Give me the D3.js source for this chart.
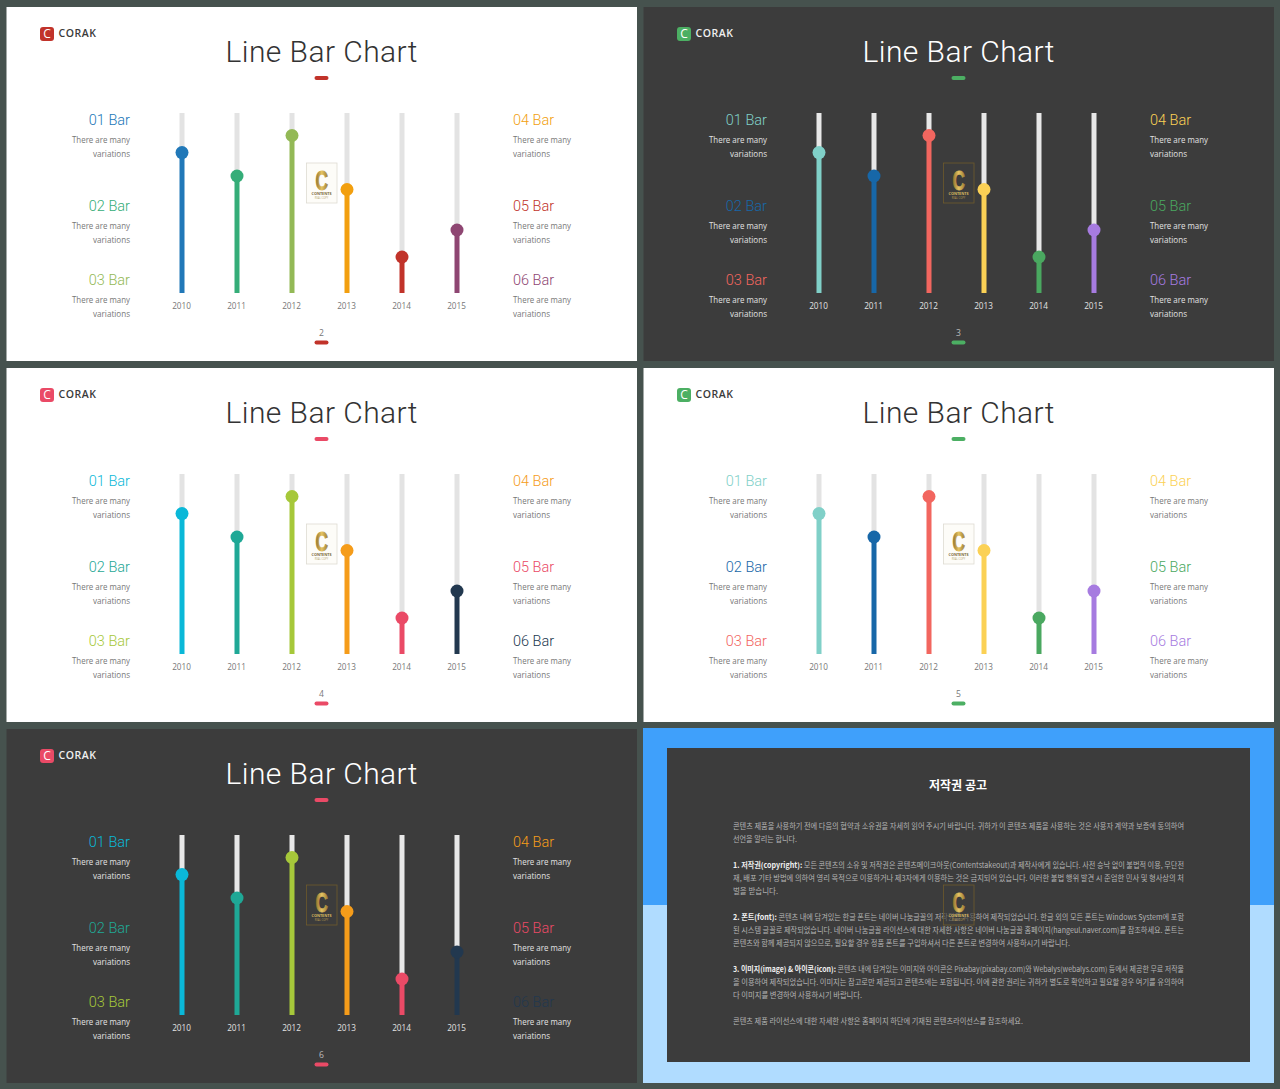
<!DOCTYPE html>
<html>
<head>
<meta charset="utf-8">
<script src="https://cdn.jsdelivr.net/npm/d3@7"></script>
<style>
  html, body { margin: 0; padding: 0; background: #46524e; }
  svg { display: block; }
  text { font-family: "Open Sans", sans-serif; }
  .title { font-family: Roboto, sans-serif; font-weight: 300; }
  .barname { font-family: Roboto, sans-serif; font-weight: 300; }
  .kr { font-family: "Noto Sans CJK KR", sans-serif; }
</style>
</head>
<body>
<svg id="chart" width="1280" height="1089"></svg>
<script>
// values, same on all five chart slides
const years = ["2010", "2011", "2012", "2013", "2014", "2015"];
const values = [78, 65, 87.5, 57.5, 20, 35];
const barNames = ["01 Bar", "02 Bar", "03 Bar", "04 Bar", "05 Bar", "06 Bar"];
const descLines = ["There are many", "variations"];
const pages = ["2", "3", "4", "5", "6"];

const colorsRed = ["#2178b8", "#35ad78", "#93b956", "#f29f0f", "#c1332a", "#8e4672"];
const colorsGreen = ["#80d0c8", "#1767a8", "#f2665f", "#fbd155", "#4aa860", "#a67be0"];
const colorsPink = ["#0ab8d8", "#1fa896", "#a6c83a", "#f59c1a", "#ea4a66", "#22384f"];

const noticeTitle = "저작권 공고";
const noticeHeads = ["", "", "1. 저작권(copyright):", "", "", "2. 폰트(font):", "", "", "3. 이미지(image) & 아이콘(icon):", "", "", ""];
const noticeBodies = [
  "콘텐츠 제품을 사용하기 전에 다음의 협약과 소유권을 자세히 읽어 주시기 바랍니다. 귀하가 이 콘텐츠 제품을 사용하는 것은 사용자 계약과 보증에 동의하여",
  "선언을 알리는 합니다.",
  " 모든 콘텐츠의 소유 및 저작권은 콘텐츠메이크아웃(Contentstakeout)과 제작사에게 있습니다. 사전 승낙 없이 불법적 이용, 무단전",
  "재, 배포 기타 방법에 의하여 영리 목적으로 이용하거나 제3자에게 이용하는 것은 금지되어 있습니다. 이러한 불법 행위 발견 시 준엄한 민사 및 형사상의 처",
  "벌을 받습니다.",
  " 콘텐츠 내에 담겨있는 한글 폰트는 네이버 나눔글꼴의 저작권을 사용하여 제작되었습니다. 한글 외의 모든 폰트는 Windows System에 포함",
  "된 시스템 글꼴로 제작되었습니다. 네이버 나눔글꼴 라이선스에 대한 자세한 사항은 네이버 나눔글꼴 홈페이지(hangeul.naver.com)를 참조하세요. 폰트는",
  "콘텐츠와 함께 제공되지 않으므로, 필요할 경우 정품 폰트를 구입하셔서 다른 폰트로 변경하여 사용하시기 바랍니다.",
  " 콘텐츠 내에 담겨있는 이미지와 아이콘은 Pixabay(pixabay.com)와 Webalys(webalys.com) 등에서 제공한 무료 저작물",
  "을 이용하여 제작되었습니다. 이미지는 참고로만 제공되고 콘텐츠에는 포함됩니다. 이에 관한 권리는 귀하가 별도로 확인하고 필요할 경우 여기를 유의하여",
  "다 이미지를 변경하여 사용하시기 바랍니다.",
  "콘텐츠 제품 라이선스에 대한 자세한 사항은 홈페이지 하단에 기재된 콘텐츠라이선스를 참조하세요."
];

const slides = [
  { col: 0, row: 0, dark: false, accent: "#c1332a", colors: colorsRed },
  { col: 1, row: 0, dark: true, accent: "#4caf63", colors: colorsGreen },
  { col: 0, row: 1, dark: false, accent: "#ea4a66", colors: colorsPink },
  { col: 1, row: 1, dark: false, accent: "#4caf63", colors: colorsGreen },
  { col: 0, row: 2, dark: true, accent: "#ea4a66", colors: colorsPink }
];

const svg = d3.select("#chart");

const defs = svg.append("defs");
const gold = defs.append("linearGradient").attr("id", "gold").attr("x1", 0).attr("x2", 1);
gold.append("stop").attr("offset", "0%").attr("stop-color", "#8a6d2a");
gold.append("stop").attr("offset", "50%").attr("stop-color", "#e6c463");
gold.append("stop").attr("offset", "100%").attr("stop-color", "#9a7a30");

const x = d3.scalePoint().domain(years).range([182, 457]);
const y = d3.scaleLinear().domain([0, 100]).range([293, 113]);

function drawStamp(g, dark) {
  g.append("rect").attr("x", 306.5).attr("y", 163).attr("width", 30.5).attr("height", 40)
    .attr("fill", dark ? "#3c3c3c" : "#fdfcf8")
    .attr("fill-opacity", dark ? 0.6 : 1)
    .attr("stroke", dark ? "#6e5a2c" : "#dedbd2").attr("stroke-width", 0.8);
  g.append("text").attr("x", 315.5).attr("y", 189.5).attr("font-size", 27).attr("font-weight", 700)
    .style("font-family", "'Liberation Sans Narrow', sans-serif")
    .attr("textLength", 12.5).attr("lengthAdjust", "spacingAndGlyphs")
    .attr("fill", "url(#gold)").attr("stroke", "url(#gold)").attr("stroke-width", 0.9).text("C");
  g.append("text").attr("x", 311.5).attr("y", 195).attr("font-size", 4.2).attr("font-weight", 700)
    .attr("textLength", 20).attr("lengthAdjust", "spacingAndGlyphs")
    .attr("fill", dark ? "#d8b860" : "#7a6a3a").text("CONTENTS");
  g.append("text").attr("x", 321.5).attr("y", 199).attr("text-anchor", "middle")
    .attr("font-size", 2.6)
    .attr("fill", dark ? "#b89a50" : "#b8a876").text("REAL COPY");
}

function drawSlide(s, si) {
  const g = svg.append("g").attr("transform", `translate(${s.col * 637},${s.row * 361})`);
  const ink = s.dark ? "#ffffff" : "#333333";
  const soft = s.dark ? "#e2e2e2" : "#777777";

  g.append("rect").attr("x", 6.5).attr("y", 7).attr("width", 630.5).attr("height", 354)
    .attr("fill", s.dark ? "#3c3c3c" : "#ffffff");

  // logo
  g.append("rect").attr("x", 40).attr("y", 27).attr("width", 14).attr("height", 14).attr("rx", 3)
    .attr("fill", s.accent);
  g.append("text").attr("x", 47).attr("y", 38.2).attr("text-anchor", "middle")
    .attr("font-size", 12).attr("font-weight", 400).attr("fill", "#fff").text("C");
  g.append("text").attr("x", 58.5).attr("y", 37).attr("font-size", 10.5).attr("font-weight", 600)
    .attr("textLength", 37.5).attr("lengthAdjust", "spacing")
    .attr("fill", s.dark ? "#f0f0f0" : "#3a3a3a").text("CORAK");

  g.append("text").attr("class", "title").attr("x", 321.5).attr("y", 62).attr("text-anchor", "middle")
    .attr("font-size", 30).attr("fill", ink)
    .attr("textLength", 192).attr("lengthAdjust", "spacing").text("Line Bar Chart");

  g.append("rect").attr("x", 314.5).attr("y", 76).attr("width", 14).attr("height", 4).attr("rx", 2)
    .attr("fill", s.accent);

  // side labels, three on each side
  const rowY = [125, 211, 285];
  const descWidth = [58, 37];
  barNames.forEach(function (name, i) {
    const left = i < 3;
    const lx = left ? 130 : 513;
    const ly = rowY[i % 3];
    const anchor = left ? "end" : "start";
    g.append("text").attr("class", "barname").attr("x", lx).attr("y", ly).attr("text-anchor", anchor)
      .attr("font-size", 14.5).attr("fill", s.colors[i]).text(name);
    descLines.forEach(function (line, k) {
      g.append("text").attr("x", lx).attr("y", ly + 18 + k * 13.5).attr("text-anchor", anchor)
        .attr("font-size", 8.8).attr("fill", soft)
        .attr("textLength", descWidth[k]).attr("lengthAdjust", "spacingAndGlyphs").text(line);
    });
  });

  // the track only shows above the dot
  g.selectAll(".track").data(values).join("rect").attr("class", "track")
    .attr("x", (d, i) => x(years[i]) - 2.5).attr("y", y(100)).attr("width", 5)
    .attr("height", d => y(d) - y(100))
    .attr("fill", s.dark ? "#e8e8e8" : "#e3e3e3");

  g.selectAll(".bar").data(values).join("rect").attr("class", "bar")
    .attr("x", (d, i) => x(years[i]) - 2.5).attr("y", d => y(d))
    .attr("width", 5).attr("height", d => y(0) - y(d))
    .attr("fill", (d, i) => s.colors[i]);

  g.selectAll(".dot").data(values).join("circle").attr("class", "dot")
    .attr("cx", (d, i) => x(years[i])).attr("cy", d => y(d)).attr("r", 6.5)
    .attr("fill", (d, i) => s.colors[i]);

  const axis = g.append("g").attr("transform", "translate(-1,303)")
    .call(d3.axisBottom(x).tickSize(0).tickPadding(0));
  axis.select(".domain").remove();
  axis.selectAll("text").attr("font-size", 8.2).style("font-family", "'Open Sans', sans-serif")
    .attr("fill", soft);

  drawStamp(g, s.dark);

  g.append("text").attr("x", 321.5).attr("y", 336).attr("text-anchor", "middle")
    .attr("font-size", 8.6).attr("fill", s.dark ? "#bbbbbb" : "#777777").text(pages[si]);
  g.append("rect").attr("x", 314.5).attr("y", 340.5).attr("width", 14).attr("height", 4).attr("rx", 2)
    .attr("fill", s.accent);
}

slides.forEach(drawSlide);

// notice slide, bottom right
const n = svg.append("g");
n.append("rect").attr("x", 643).attr("y", 728).attr("width", 631).attr("height", 177).attr("fill", "#3fa0fb");
n.append("rect").attr("x", 643).attr("y", 905).attr("width", 631).attr("height", 178).attr("fill", "#b0dcff");
n.append("rect").attr("x", 667).attr("y", 748).attr("width", 583).attr("height", 314).attr("fill", "#3c3c3c");
n.append("text").attr("class", "kr").attr("x", 958).attr("y", 790).attr("text-anchor", "middle")
  .attr("font-size", 12).attr("font-weight", 700).attr("fill", "#ffffff").text(noticeTitle);

const lineY = [829, 842, 868, 881, 894, 920, 933, 946, 972, 985, 998, 1024];
const lineW = [451, 64, 451, 451, 45, 451, 451, 337, 451, 451, 129, 290];

noticeBodies.forEach(function (body, i) {
  const t = n.append("text").attr("class", "kr").attr("x", 733).attr("y", lineY[i])
    .attr("font-size", 7.6).attr("fill", "#b4b4b4")
    .attr("textLength", lineW[i]).attr("lengthAdjust", "spacingAndGlyphs");
  if (noticeHeads[i]) t.append("tspan").attr("font-weight", 700).attr("fill", "#f0f0f0").text(noticeHeads[i]);
  t.append("tspan").text(body);
});

const stamp = n.append("g").attr("transform", "translate(637,722)");
drawStamp(stamp, true);
</script>
</body>
</html>
